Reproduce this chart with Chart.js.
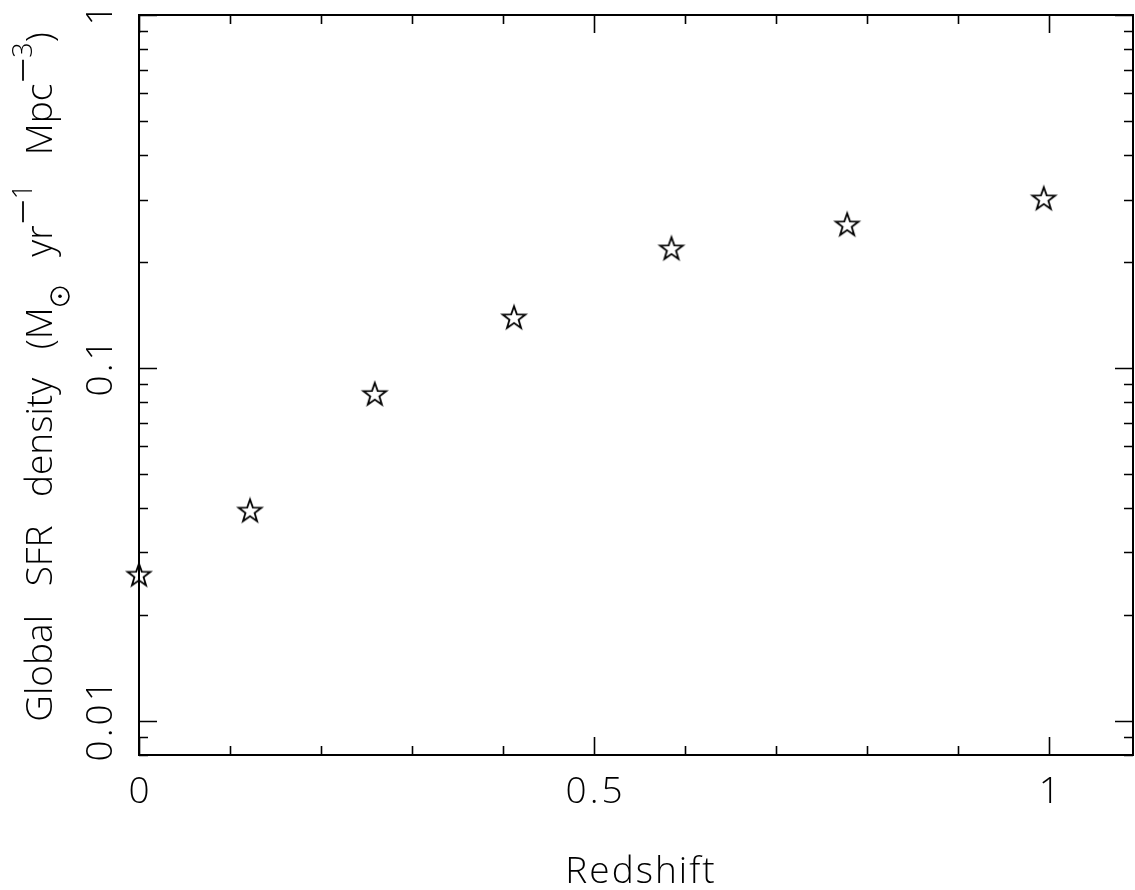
<!DOCTYPE html>
<html>
<head>
<meta charset="utf-8">
<script src="https://cdn.jsdelivr.net/npm/chart.js@4.4.1/dist/chart.umd.min.js"></script>
<style>
  html, body { margin: 0; padding: 0; background: #fff; }
  #sfrChart { display: block; }
</style>
</head>
<body>
<canvas id="sfrChart" width="1135" height="890"></canvas>
<script>
// values
var redshift = [0, 0.122, 0.259, 0.412, 0.585, 0.778, 0.994]
var sfrDensity = [0.0258, 0.0392, 0.0839, 0.1383, 0.2169, 0.2536, 0.3006]

var xTickValues = [0, 0.5, 1]
var xTickLabels = ['0', '0.5', '1']
var yTickValues = [0.01, 0.1, 1]
var yTickLabels = ['0.01', '0.1', '1']

var FONT_FAMILY = '"Open Sans", "DejaVu Sans", sans-serif'
var FONT_SIZE = 37

// hollow five pointed star used as point style
function makeStar(radius) {
  var size = Math.ceil(radius * 2 + 6)
  var c = document.createElement('canvas')
  c.width = size
  c.height = size
  var g = c.getContext('2d')
  var cx = size / 2, cy = size / 2
  var inner = radius * 0.4
  g.beginPath()
  for (var i = 0; i < 10; i++) {
    var r = i % 2 === 0 ? radius : inner
    var a = -Math.PI / 2 + i * Math.PI / 5
    var px = cx + r * Math.cos(a), py = cy + r * Math.sin(a)
    if (i === 0) g.moveTo(px, py)
    else g.lineTo(px, py)
  }
  g.closePath()
  g.lineWidth = 1.8
  g.strokeStyle = '#000'
  g.stroke()
  return c
}

function font(scale) {
  return '300 ' + Math.round(FONT_SIZE * (scale || 1)) + 'px ' + FONT_FAMILY
}

// rich text: normal, subscript sun symbol, superscript minus and digits
var yTitle = [
  {text: 'Global SFR density (M'},
  {sun: true},
  {text: ' yr'},
  {minus: true},
  {text: '1', sup: true},
  {text: ' Mpc'},
  {minus: true},
  {text: '3', sup: true},
  {text: ')'}
]

function segWidth(ctx, seg) {
  if (seg.sun) return 22
  if (seg.minus) return 26
  ctx.font = font(seg.sup ? 0.72 : 1)
  return ctx.measureText(seg.text).width
}

function drawRich(ctx, segs) {
  var total = 0
  segs.forEach(function(s) { total += segWidth(ctx, s) })
  var x = -total / 2
  segs.forEach(function(s) {
    var w = segWidth(ctx, s)
    if (s.sun) {
      ctx.beginPath()
      ctx.lineWidth = 1.6
      ctx.arc(x + w / 2, 8, 9, 0, Math.PI * 2)
      ctx.stroke()
      ctx.beginPath()
      ctx.arc(x + w / 2, 8, 1.8, 0, Math.PI * 2)
      ctx.fill()
    } else if (s.minus) {
      ctx.beginPath()
      ctx.lineWidth = 1.8
      ctx.moveTo(x + 3, -29)
      ctx.lineTo(x + w - 2, -29)
      ctx.stroke()
    } else {
      ctx.font = font(s.sup ? 0.72 : 1)
      ctx.fillText(s.text, x, s.sup ? -20 : 0)
    }
    x += w
  })
}

var framePlugin = {
  id: 'frame',
  afterDatasetsDraw: function(chart) {
    var ctx = chart.ctx
    var area = chart.chartArea
    var xs = chart.scales.x, ys = chart.scales.y
    ctx.save()
    ctx.strokeStyle = '#000'
    ctx.fillStyle = '#000'
    ctx.lineWidth = 2
    ctx.strokeRect(area.left, area.top, area.right - area.left, area.bottom - area.top)

    ctx.lineWidth = 1.6
    ctx.beginPath()
    // x ticks every 0.1, longer at labelled values
    for (var i = 0; i <= 20; i++) {
      var v = i / 10
      if (v > xs.max) break
      var px = Math.round(xs.getPixelForValue(v)) + 0.5
      var len = xTickValues.indexOf(v) >= 0 ? 18 : 9
      ctx.moveTo(px, area.bottom); ctx.lineTo(px, area.bottom - len)
      ctx.moveTo(px, area.top); ctx.lineTo(px, area.top + len)
    }
    // log y ticks 1..9 per decade
    for (var d = -3; d <= 0; d++) {
      for (var k = 1; k <= 9; k++) {
        var val = k * Math.pow(10, d)
        if (val < ys.min * 0.999 || val > ys.max * 1.001) continue
        var py = Math.round(ys.getPixelForValue(val)) + 0.5
        var l = k === 1 ? 18 : 9
        ctx.moveTo(area.left, py); ctx.lineTo(area.left + l, py)
        ctx.moveTo(area.right, py); ctx.lineTo(area.right - l, py)
      }
    }
    ctx.stroke()

    // tick labels
    ctx.font = font(1)
    ctx.letterSpacing = '3px'
    ctx.textAlign = 'center'
    ctx.textBaseline = 'alphabetic'
    xTickValues.forEach(function(v, i) {
      ctx.fillText(xTickLabels[i], xs.getPixelForValue(v) + 1.5, area.bottom + 48)
    })
    yTickValues.forEach(function(v, i) {
      ctx.save()
      ctx.translate(area.left - 27, ys.getPixelForValue(v) - 1.5)
      ctx.rotate(-Math.PI / 2)
      ctx.fillText(yTickLabels[i], 0, 0)
      ctx.restore()
    })

    // axis titles
    ctx.letterSpacing = '2px'
    ctx.fillText('Redshift', (area.left + area.right) / 2 + 5, area.bottom + 128)
    ctx.letterSpacing = '0px'
    ctx.wordSpacing = '19px'
    ctx.save()
    ctx.translate(52, 377)
    ctx.rotate(-Math.PI / 2)
    ctx.textAlign = 'left'
    drawRich(ctx, yTitle)
    ctx.restore()
    ctx.restore()
  }
}

var starImg = makeStar(12)

var sfrChart = new Chart(document.getElementById('sfrChart'), {
  type: 'scatter',
  data: {
    datasets: [{
      data: redshift.map(function(z, i) { return {x: z, y: sfrDensity[i]} }),
      pointStyle: starImg,
      pointRadius: 12,
      showLine: false,
      clip: false
    }]
  },
  options: {
    responsive: false,
    animation: false,
    events: [],
    layout: {autoPadding: false, padding: {left: 139, top: 15, right: 2, bottom: 135}},
    plugins: {legend: {display: false}, tooltip: {enabled: false}},
    scales: {
      x: {type: 'linear', min: 0, max: 1.092, display: false},
      y: {type: 'logarithmic', min: 0.008, max: 1, display: false}
    }
  },
  plugins: [framePlugin]
})
</script>
</body>
</html>
